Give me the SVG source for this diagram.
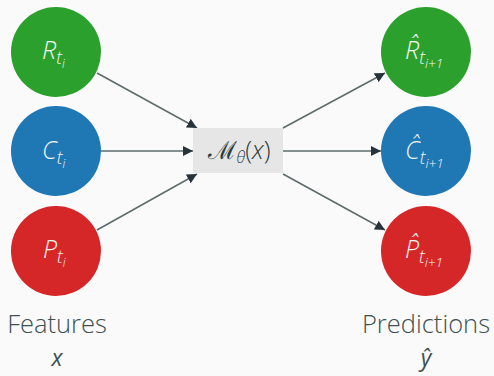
<svg xmlns="http://www.w3.org/2000/svg" width="494" height="376" viewBox="0 0 494 376">
<defs>
<marker id="ah" viewBox="0 0 10 10" refX="10" refY="5" markerWidth="10" markerHeight="10" markerUnits="userSpaceOnUse" orient="auto">
<path d="M0,0 L10,5 L0,10 Z" fill="#26333a"/>
</marker>
<style>
.lbl{font-family:"Open Sans","DejaVu Sans",sans-serif;font-weight:300;font-style:italic;fill:#f4f4f4;}
.cap{font-family:"Open Sans","DejaVu Sans",sans-serif;font-weight:300;fill:#3f5050;font-size:25.5px;}
.var{font-family:"Open Sans","DejaVu Sans",sans-serif;font-style:italic;fill:#3f5050;font-size:23px;}
.edge{stroke:#5d6b6b;stroke-width:1.5;fill:none;marker-end:url(#ah);}
</style>
</defs>
<rect width="494" height="376" fill="#fafafa"/>
<g id="connectors">
<line class="edge" x1="97" y1="73" x2="197" y2="128"/>
<line class="edge" x1="101" y1="151" x2="193" y2="151"/>
<line class="edge" x1="97" y1="230" x2="197" y2="174"/>
<line class="edge" x1="283" y1="128" x2="385" y2="73"/>
<line class="edge" x1="283" y1="151" x2="381" y2="151"/>
<line class="edge" x1="283" y1="174" x2="385" y2="230"/>
</g>
<g id="R">
<circle cx="56" cy="52" r="45" fill="#2ca02c"/>
<text class="lbl" x="42" y="59" font-size="25">R<tspan font-size="18" dy="5">t</tspan><tspan font-size="12" dy="4">i</tspan></text>
</g>
<g id="C">
<circle cx="56" cy="151" r="45" fill="#1f77b4"/>
<text class="lbl" x="42" y="159" font-size="25">C<tspan font-size="18" dy="5">t</tspan><tspan font-size="12" dy="4">i</tspan></text>
</g>
<g id="P">
<circle cx="56" cy="251" r="45" fill="#d62728"/>
<text class="lbl" x="43" y="258" font-size="25">P<tspan font-size="18" dy="5">t</tspan><tspan font-size="12" dy="4">i</tspan></text>
</g>
<g id="model">
<rect x="193" y="128" width="90" height="45" fill="#e6e6e6"/>
<text x="239" y="159" text-anchor="middle" font-family="'Open Sans',sans-serif" font-weight="300" font-size="25" fill="#2e3d3d"><tspan font-family="'DejaVu Serif',serif">ℳ</tspan><tspan font-size="16" dy="4" font-style="italic">θ</tspan><tspan dy="-4">(</tspan><tspan font-style="italic">x</tspan>)</text>
</g>
<g id="Rhat">
<circle cx="426" cy="52" r="45" fill="#2ca02c"/>
<text class="lbl" x="405" y="59" font-size="25">R̂<tspan font-size="18" dy="5">t</tspan><tspan font-size="13.5" dy="4">i+1</tspan></text>
</g>
<g id="Chat">
<circle cx="426" cy="151" r="45" fill="#1f77b4"/>
<text class="lbl" x="405" y="159" font-size="25">Ĉ<tspan font-size="18" dy="5">t</tspan><tspan font-size="13.5" dy="4">i+1</tspan></text>
</g>
<g id="Phat">
<circle cx="426" cy="251" r="45" fill="#d62728"/>
<text class="lbl" x="405" y="258" font-size="25">P̂<tspan font-size="18" dy="5">t</tspan><tspan font-size="13.5" dy="4">i+1</tspan></text>
</g>
<g id="captions">
<text class="cap" x="57" y="333" text-anchor="middle">Features</text>
<text class="var" x="57" y="366" text-anchor="middle">x</text>
<text class="cap" x="426" y="333" text-anchor="middle">Predictions</text>
<text class="var" x="426" y="366" text-anchor="middle">ŷ</text>
</g>
</svg>
